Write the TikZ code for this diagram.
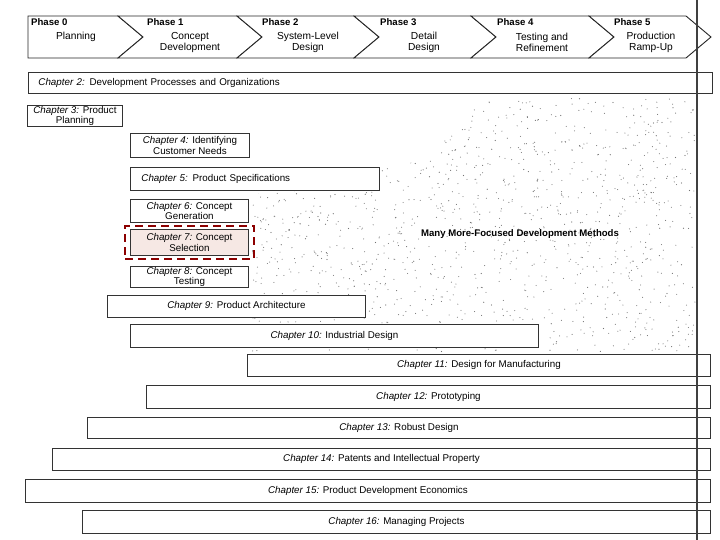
\documentclass[tikz,border=0pt]{standalone}
\usepackage{fontspec}
\setmainfont{Liberation Sans}
\usetikzlibrary{fit}
\newcommand\chp[1]{\textit{Chapter #1:}}
\begin{document}
\begin{tikzpicture}[x=1pt,y=-1pt,
  outl/.style={draw=black!85, line width=0.9pt, fill=white},
  chap/.style={draw=black!80, line width=0.9pt, fill=white, inner sep=0pt,
    align=center, anchor=north west, font=\fontsize{9.8}{10.8}\selectfont},
  phlab/.style={anchor=north west, inner sep=0pt, font=\bfseries\fontsize{9.6}{11}\selectfont},
  phname/.style={inner sep=0pt, align=center, font=\fontsize{10.2}{11.6}\selectfont},
  hl/.style={draw=red!55!black, line width=2.6pt, dash pattern=on 8pt off 5pt, inner xsep=5pt, inner ysep=3pt},
  speck/.style={fill=black!55}]
\useasboundingbox (0,0) rectangle (720,540);

% speckled background
\begin{scope}
\clip (480,98) -- (697,98) -- (697,352) -- (252,352) -- (252,195) -- (425,160) -- cycle;
\pgfmathsetseed{11}
\foreach \i in {1,...,1400}{
  \fill[speck] ({250+447*rnd},{98+254*rnd}) circle[radius=0.55];
}
\end{scope}

% phase banner
\path[outl] (28,16) -- (118,16) -- (143,37) -- (118,58) -- (28,58) -- cycle;
\path[outl] (118,16) -- (237,16) -- (262,37) -- (237,58) -- (118,58) -- (143,37) -- cycle;
\path[outl] (237,16) -- (354,16) -- (379,37) -- (354,58) -- (237,58) -- (262,37) -- cycle;
\path[outl] (354,16) -- (471,16) -- (496,37) -- (471,58) -- (354,58) -- (379,37) -- cycle;
\path[outl] (471,16) -- (589,16) -- (614,37) -- (589,58) -- (471,58) -- (496,37) -- cycle;
\path[outl] (589,16) -- (686,16) -- (711,37) -- (686,58) -- (589,58) -- (614,37) -- cycle;

\node[phlab] (p0) at (31,18) {Phase 0};
\node[phlab] (p1) at (147,18) {Phase 1};
\node[phlab] (p2) at (262,18) {Phase 2};
\node[phlab] (p3) at (380,18) {Phase 3};
\node[phlab] (p4) at (497,18) {Phase 4};
\node[phlab] (p5) at (614,18) {Phase 5};
\node[phname] (n0) at (76,37) {Planning};
\node[phname] (n1) at (190,42.5) {Concept\\Development};
\node[phname] (n2) at (308,42.5) {System-Level\\Design};
\node[phname] (n3) at (424,42.5) {Detail\\Design};
\node[phname] (n4) at (542,42.5) {Testing and\\Refinement};
\node[phname] (n5) at (651,42.5) {Production\\Ramp-Up};

% chapters
\node[chap, text width=664pt, inner xsep=10pt, minimum height=21pt, align=left] (c2) at (28,72)
  {\chp{2} Development Processes and Organizations};
\node[chap, minimum width=95pt, minimum height=21pt] (c3) at (27,105) {\chp{3} Product\\Planning};
\node[chap, minimum width=119pt, minimum height=24pt] (c4) at (130,133) {\chp{4} Identifying\\Customer Needs};
\node[chap, text width=227pt, inner xsep=11pt, minimum height=23pt, align=left] (c5) at (130,167)
  {\chp{5} Product Specifications};
\node[chap, minimum width=118pt, minimum height=23pt] (c6) at (130,199) {\chp{6} Concept\\Generation};
\node[chap, minimum width=118pt, minimum height=26pt, fill={rgb,255:red,246;green,232;blue,228}] (c7) at (130,229) {\chp{7} Concept\\Selection};
\node[hl, fit=(c7)] (c7hl) {};
\node[chap, minimum width=118pt, minimum height=21pt] (c8) at (130,266) {\chp{8} Concept\\Testing};
\node[chap, minimum width=258pt, minimum height=22pt] (c9) at (107,295) {\chp{9} Product Architecture};
\node[chap, minimum width=408pt, minimum height=23pt] (c10) at (130,324) {\chp{10} Industrial Design};
\node[chap, minimum width=463pt, minimum height=22pt] (c11) at (247,354) {\chp{11} Design for Manufacturing};
\node[chap, minimum width=564pt, minimum height=23pt] (c12) at (146,385) {\chp{12} Prototyping};
\node[chap, minimum width=623pt, minimum height=21pt] (c13) at (87,417) {\chp{13} Robust Design};
\node[chap, minimum width=658pt, minimum height=22pt] (c14) at (52,448) {\chp{14} Patents and Intellectual Property};
\node[chap, minimum width=685pt, minimum height=23pt] (c15) at (25,479) {\chp{15} Product Development Economics};
\node[chap, minimum width=628pt, minimum height=23pt] (c16) at (82,510) {\chp{16} Managing Projects};

\node[inner sep=0pt, font=\bfseries\fontsize{9.6}{11}\selectfont] (many) at (520,234) {Many More-Focused Development Methods};

% vertical rule
\coordinate (vtop) at (697,0);
\coordinate (vbot) at (697,540);
\draw[black!75, line width=1.1pt] (vtop) -- (vbot);
\end{tikzpicture}
\end{document}
